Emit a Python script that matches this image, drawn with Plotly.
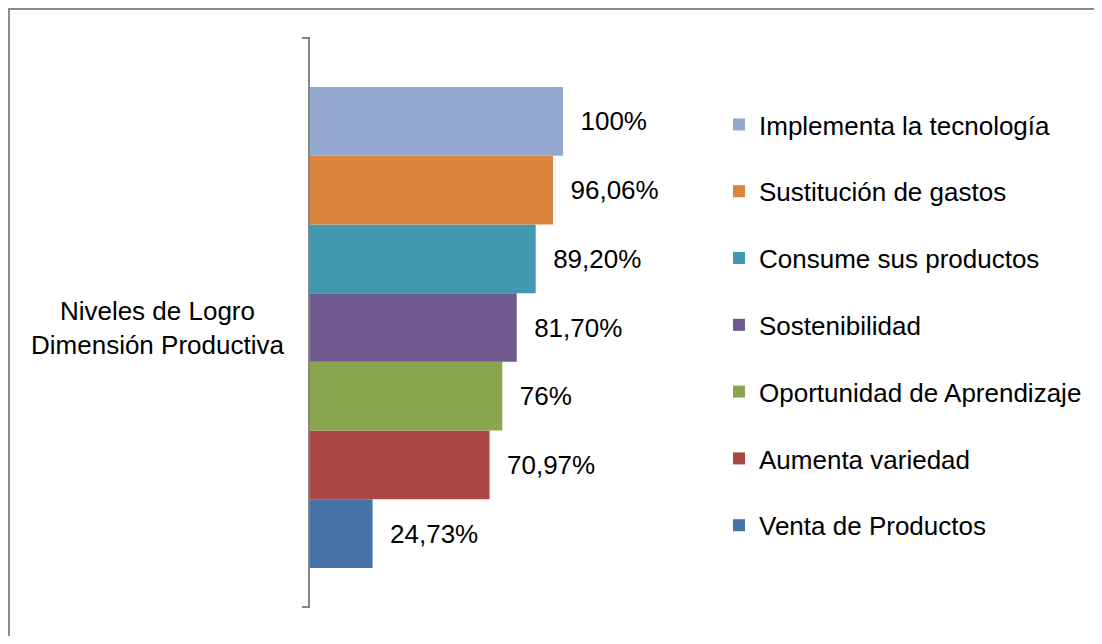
import plotly.graph_objects as go

category = "Niveles de Logro<br>Dimensión Productiva"
series_names = [
    "Venta de Productos",
    "Aumenta variedad",
    "Oportunidad de Aprendizaje",
    "Sostenibilidad",
    "Consume sus productos",
    "Sustitución de gastos",
    "Implementa la tecnología",
]
values = [24.73, 70.97, 76, 81.70, 89.20, 96.06, 100]
labels = ["24,73%", "70,97%", "76%", "81,70%", "89,20%", "96,06%", "100%"]
colors = ["#4572A7", "#AA4643", "#89A54E", "#71588F", "#4198AF", "#DB843D", "#93A9CF"]

# page body has an 8px margin: work in screen coordinates and subtract it
OFF = 8
W, H = 1102 - 2 * OFF, 644 - 2 * OFF
L, R, T, B = 310 - OFF, 700 - OFF, 38 - OFF, 607 - OFF
xmax = 100 * (R - L) / ((563 - OFF) - L)
shift = 5 / (B - T)  # bars sit slightly below the band centre

def px(x):
    return (x - OFF - L) / (R - L)

def py(y):
    return (B - (y - OFF)) / (B - T)

FS = 26
n = len(series_names)
fig = go.Figure()
for i, (name, v, lab, c) in enumerate(zip(series_names, values, labels, colors)):
    fig.add_trace(go.Bar(
        name=name, y=[category], x=[v], orientation="h",
        marker=dict(color=c, line=dict(width=0)),
        text=["\u00a0\u00a0" + lab], textposition="outside",
        textfont=dict(size=FS, color="black"),
        cliponaxis=False, legendgroup=name, legendrank=n - i,
        hoverinfo="skip",
    ))

fig.add_annotation(text=category, xref="paper", yref="y", x=px(157), y=category,
                   xanchor="center", yanchor="middle", align="center",
                   showarrow=False, font=dict(size=FS, color="black"))

axis_col = "#868686"
fig.update_layout(
    width=W, height=H,
    margin=dict(l=L, r=W - R, t=T, b=H - B, autoexpand=False),
    paper_bgcolor="white", plot_bgcolor="white",
    font=dict(family="Liberation Sans, Arial, sans-serif", size=FS, color="black"),
    barmode="group", bargap=0.155, bargroupgap=0,
    xaxis=dict(range=[0, xmax], visible=False),
    yaxis=dict(type="category", range=[-0.5 + shift, 0.5 + shift], ticks="",
               showline=True, linecolor=axis_col, linewidth=2,
               showgrid=False, zeroline=False, showticklabels=False),
    legend=dict(x=px(719), xanchor="left", y=py(101), yanchor="top",
                traceorder="grouped", tracegroupgap=30,
                font=dict(size=FS), bgcolor="rgba(0,0,0,0)"),
    showlegend=True,
    shapes=[
        dict(type="rect", xref="paper", yref="paper",
             x0=px(9), x1=px(1120), y0=py(660), y1=py(OFF + 1),
             line=dict(color="#8c8c8c", width=2), layer="below"),
        dict(type="line", xref="paper", yref="paper",
             x0=px(302), x1=px(310), y0=1, y1=1,
             line=dict(color=axis_col, width=2)),
        dict(type="line", xref="paper", yref="paper",
             x0=px(302), x1=px(310), y0=0, y1=0,
             line=dict(color=axis_col, width=2)),
    ],
)

fig.write_html("out.html")
